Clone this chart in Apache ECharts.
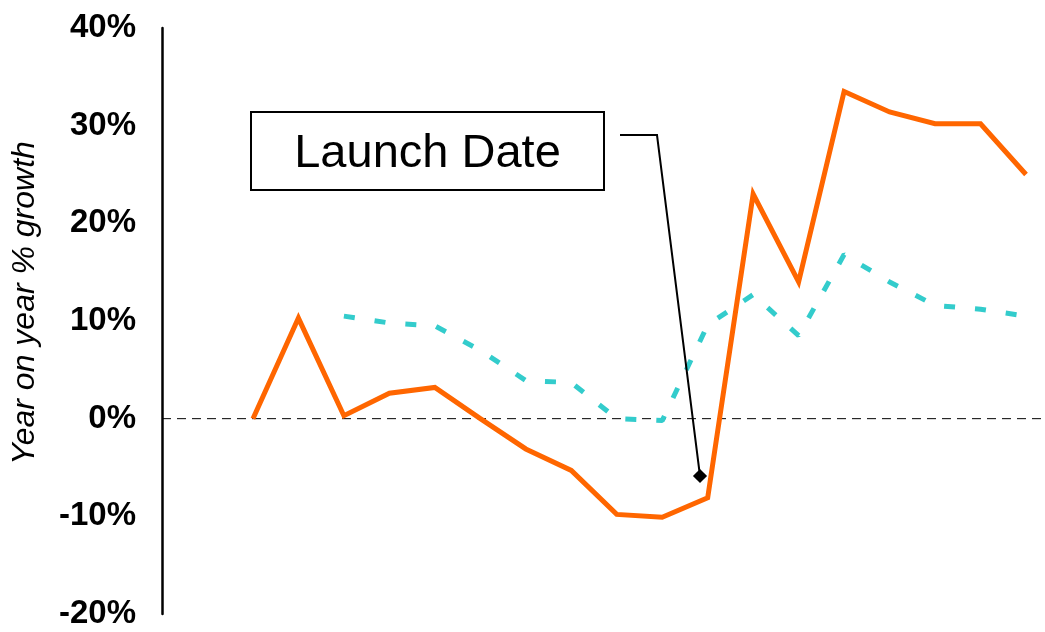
<!DOCTYPE html>
<html>
<head>
<meta charset="utf-8">
<script src="https://cdn.jsdelivr.net/npm/echarts@6/dist/echarts.min.js"></script>
<style>
html,body{margin:0;padding:0;background:#fff;}
#chart{width:1045px;height:632px;}
</style>
</head>
<body>
<div id="chart"></div>
<script>
// ---- data ----
var categories = ['', '', 'P1','P2','P3','P4','P5','P6','P7','P8','P9','P10','P11','P12','P13','P14','P15','P16','P17','P18'];
var productGrowth = [0.0, 10.3, 0.3, 2.6, 3.2, 0.0, -3.1, -5.3, -9.8, -10.1, -8.1, 23.0, 14.0, 33.5, 31.4, 30.2, 30.2, 25.0]; // starts at P1
var marketGrowth = [10.5, 9.8, 9.5, 7.0, 3.9, 3.7, 0.0, -0.2, 9.6, 12.7, 8.5, 16.8, 14.0, 11.6, 11.2, 10.5]; // starts at P3
var yTicks = { min: -20, max: 40, interval: 10 };
var annotationText = 'Launch Date';

function pad(arr, total) {
  var out = [];
  for (var i = 0; i < total - arr.length; i++) out.push(null);
  return out.concat(arr);
}

var chart = echarts.init(document.getElementById('chart'));
var FONT = '"Liberation Sans", Arial, sans-serif';

chart.setOption({
  animation: false,
  backgroundColor: '#ffffff',
  grid: { left: 162, right: 19, top: 28, bottom: 18 },
  xAxis: {
    type: 'category',
    data: categories,
    boundaryGap: false,
    axisLine: { show: false },
    axisTick: { show: false },
    axisLabel: { show: false },
    splitLine: { show: false }
  },
  yAxis: {
    type: 'value',
    min: yTicks.min,
    max: yTicks.max,
    interval: yTicks.interval,
    axisLine: { show: true, lineStyle: { color: '#000', width: 2.5 } },
    axisTick: { show: false },
    splitLine: { show: false },
    axisLabel: {
      formatter: '{value}%',
      color: '#000',
      fontFamily: FONT,
      fontWeight: 'bold',
      fontSize: 33,
      margin: 26
    }
  },
  series: [
    {
      type: 'line',
      data: pad(marketGrowth, categories.length),
      showSymbol: false,
      symbol: 'none',
      lineStyle: { color: '#33CCCC', width: 5, type: [11, 20], cap: 'butt' },
      z: 2
    },
    {
      type: 'line',
      data: pad(productGrowth, categories.length),
      showSymbol: false,
      symbol: 'none',
      lineStyle: { color: '#FF6600', width: 5, join: 'miter' },
      z: 3
    }
  ]
});

// zero reference line, extended to the right edge
var y0 = chart.convertToPixel({ yAxisIndex: 0 }, 0);
chart.setOption({
  graphic: [
    {
      type: 'line', z: 1,
      shape: { x1: 162, y1: y0, x2: 1045, y2: y0 },
      style: { stroke: '#000', lineWidth: 1, lineDash: [9, 6] }
    },
    {
      type: 'text',
      x: 25, y: 303,
      rotation: Math.PI / 2,
      style: {
        text: 'Year on year % growth',
        font: 'italic 32px "Liberation Sans", Arial, sans-serif',
        fill: '#000',
        textAlign: 'center',
        textVerticalAlign: 'middle'
      }
    },
    {
      type: 'rect', z: 10,
      shape: { x: 251, y: 112, width: 353, height: 78 },
      style: { fill: '#fff', stroke: '#000', lineWidth: 2 }
    },
    {
      type: 'text', z: 11,
      x: 427.5, y: 154,
      style: {
        text: annotationText,
        font: '47px "Liberation Sans", Arial, sans-serif',
        fill: '#000',
        textAlign: 'center',
        textVerticalAlign: 'middle'
      }
    },
    {
      type: 'polyline', z: 10,
      shape: { points: [[620, 135], [657, 135], [700, 476]] },
      style: { stroke: '#000', lineWidth: 2, fill: null }
    },
    {
      type: 'rect', z: 11,
      x: 700, y: 476,
      rotation: Math.PI / 4,
      shape: { x: -5, y: -5, width: 10, height: 10 },
      style: { fill: '#000' }
    }
  ]
});
</script>
</body>
</html>
